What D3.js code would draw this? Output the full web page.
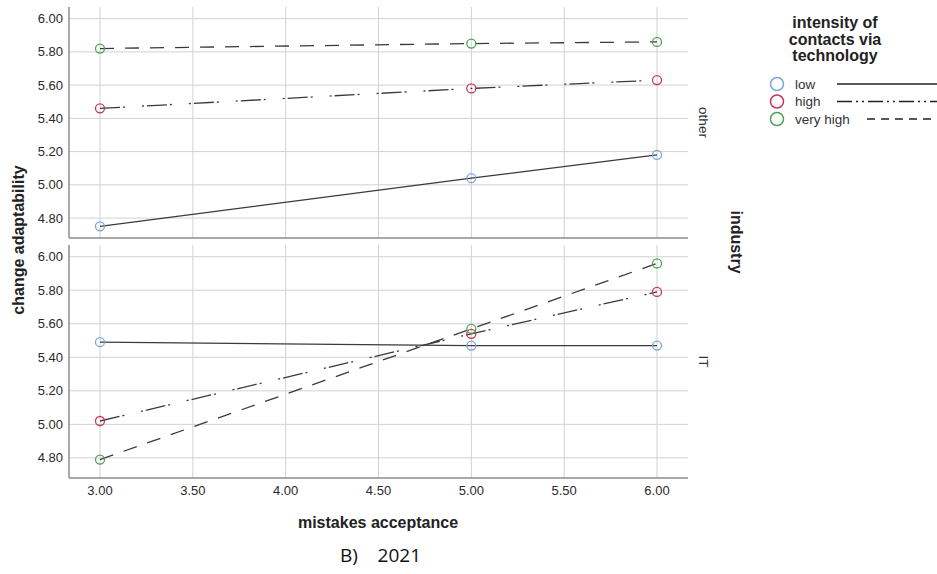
<!DOCTYPE html>
<html>
<head>
<meta charset="utf-8">
<script src="https://cdn.jsdelivr.net/npm/d3@7/dist/d3.min.js"></script>
<style>
  body { margin: 0; background: #fff; }
  svg { display: block; font-family: "Liberation Sans", Arial, sans-serif; }
</style>
</head>
<body>
<svg id="chart" width="937" height="574"></svg>
<script>
// mistakes acceptance levels present in data
var xValues = [3, 5, 6];
var xTicks = [3, 3.5, 4, 4.5, 5, 5.5, 6];
var yTicks = [4.8, 5.0, 5.2, 5.4, 5.6, 5.8, 6.0];
var panelNames = ["other", "IT"];
var levels = ["low", "high", "very high"];

// change adaptability, panel "other"
var otherLow = [4.75, 5.04, 5.18];
var otherHigh = [5.46, 5.58, 5.63];
var otherVeryHigh = [5.82, 5.85, 5.86];
// panel "IT"
var itLow = [5.49, 5.47, 5.47];
var itHigh = [5.02, 5.54, 5.79];
var itVeryHigh = [4.79, 5.57, 5.96];

var panelSeries = [
  [otherLow, otherHigh, otherVeryHigh],
  [itLow, itHigh, itVeryHigh]
];

var colors = { "low": "#7aa6dc", "high": "#c8375a", "very high": "#4fa35a" };
var dashes = { "low": null, "high": "20,3,2,17,2,3", "very high": "14,11" };
var legendDashes = { "low": null, "high": "15,4,2,4,2,4", "very high": "8,6" };

var svg = d3.select("#chart");

var x = d3.scaleLinear().domain([2.833, 6.167]).range([69, 688]);
var panelBox = [
  { top: 7, bottom: 238 },
  { top: 245, bottom: 478 }
];

var line = function(y) {
  return d3.line()
    .x(function(d) { return x(d.x); })
    .y(function(d) { return y(d.y); });
};

panelNames.forEach(function(name, p) {
  var box = panelBox[p];
  var y = d3.scaleLinear().domain([4.68, 6.07]).range([box.bottom, box.top]);
  var g = svg.append("g");

  // horizontal grid
  g.selectAll("line.hgrid")
    .data(yTicks).enter().append("line")
    .attr("x1", 69).attr("x2", 688)
    .attr("y1", function(d) { return y(d); })
    .attr("y2", function(d) { return y(d); })
    .attr("stroke", "#d2d2d2").attr("stroke-width", 1);

  // vertical grid
  g.selectAll("line.vgrid")
    .data(xTicks).enter().append("line")
    .attr("x1", function(d) { return x(d); })
    .attr("x2", function(d) { return x(d); })
    .attr("y1", box.top).attr("y2", box.bottom)
    .attr("stroke", "#d2d2d2").attr("stroke-width", 1);

  // axis lines
  g.append("line").attr("x1", 69).attr("x2", 69)
    .attr("y1", box.top).attr("y2", box.bottom)
    .attr("stroke", "#8c8c8c").attr("stroke-width", 1.5);
  g.append("line").attr("x1", 69).attr("x2", 688)
    .attr("y1", box.bottom).attr("y2", box.bottom)
    .attr("stroke", "#8c8c8c").attr("stroke-width", 1.5);

  // y tick labels
  g.selectAll("text.ytick")
    .data(yTicks).enter().append("text")
    .attr("x", 63)
    .attr("y", function(d) { return y(d); })
    .attr("dy", "0.35em")
    .attr("text-anchor", "end")
    .attr("font-size", 13)
    .attr("fill", "#2a2a2a")
    .text(d3.format(".2f"));

  // strip label
  g.append("text")
    .attr("transform", "translate(699," + ((box.top + box.bottom) / 2) + ") rotate(90)")
    .attr("text-anchor", "middle")
    .attr("font-size", 13.5)
    .attr("fill", "#333")
    .text(name);

  // series
  levels.forEach(function(level, i) {
    var pts = xValues.map(function(xv, k) { return { x: xv, y: panelSeries[p][i][k] }; });
    g.append("path")
      .datum(pts)
      .attr("d", line(y))
      .attr("fill", "none")
      .attr("stroke", "#3a3a3a")
      .attr("stroke-width", 1.3)
      .attr("stroke-dasharray", dashes[level]);
    g.selectAll("circle.m" + i)
      .data(pts).enter().append("circle")
      .attr("cx", function(d) { return x(d.x); })
      .attr("cy", function(d) { return y(d.y); })
      .attr("r", 4.5)
      .attr("fill", "none")
      .attr("stroke", colors[level])
      .attr("stroke-width", 1.3);
  });
});

// x tick labels
svg.selectAll("text.xtick")
  .data(xTicks).enter().append("text")
  .attr("x", function(d) { return x(d); })
  .attr("y", 495)
  .attr("text-anchor", "middle")
  .attr("font-size", 13)
  .attr("fill", "#2a2a2a")
  .text(d3.format(".2f"));

// axis titles
svg.append("text")
  .attr("x", 378).attr("y", 528)
  .attr("text-anchor", "middle")
  .attr("font-size", 16).attr("font-weight", "bold")
  .attr("fill", "#222")
  .text("mistakes acceptance");

svg.append("text")
  .attr("transform", "translate(24,240) rotate(-90)")
  .attr("text-anchor", "middle")
  .attr("font-size", 16).attr("font-weight", "bold")
  .attr("fill", "#222")
  .text("change adaptability");

svg.append("text")
  .attr("transform", "translate(731,242) rotate(90)")
  .attr("text-anchor", "middle")
  .attr("font-size", 16).attr("font-weight", "bold")
  .attr("fill", "#222")
  .text("industry");

// legend
var legendTitle = ["intensity of", "contacts via", "technology"];
svg.selectAll("text.ltitle")
  .data(legendTitle).enter().append("text")
  .attr("x", 835)
  .attr("y", function(d, i) { return 28 + i * 16.5; })
  .attr("text-anchor", "middle")
  .attr("font-size", 16).attr("font-weight", "bold")
  .attr("fill", "#222")
  .text(function(d) { return d; });

var legend = svg.selectAll("g.legend")
  .data(levels).enter().append("g")
  .attr("transform", function(d, i) { return "translate(0," + (84 + i * 17.5) + ")"; });

legend.append("circle")
  .attr("cx", 777).attr("cy", 0).attr("r", 6.5)
  .attr("fill", "none")
  .attr("stroke", function(d) { return colors[d]; })
  .attr("stroke-width", 1.5);

legend.append("text")
  .attr("x", 795).attr("y", 0).attr("dy", "0.35em")
  .attr("font-size", 13.5)
  .attr("fill", "#333")
  .text(function(d) { return d; });

legend.append("line")
  .attr("x1", function(d) { return d === "very high" ? 867 : 837; })
  .attr("x2", 937)
  .attr("y1", 0).attr("y2", 0)
  .attr("stroke", "#222")
  .attr("stroke-width", 1.5)
  .attr("stroke-dasharray", function(d) { return legendDashes[d]; });

// caption
svg.append("text")
  .attr("x", 340).attr("y", 562)
  .attr("font-size", 19)
  .attr("fill", "#111")
  .attr("font-family", "'Open Sans', 'Noto Sans', sans-serif")
  .attr("xml:space", "preserve")
  .text("B)    2021");
</script>
</body>
</html>
